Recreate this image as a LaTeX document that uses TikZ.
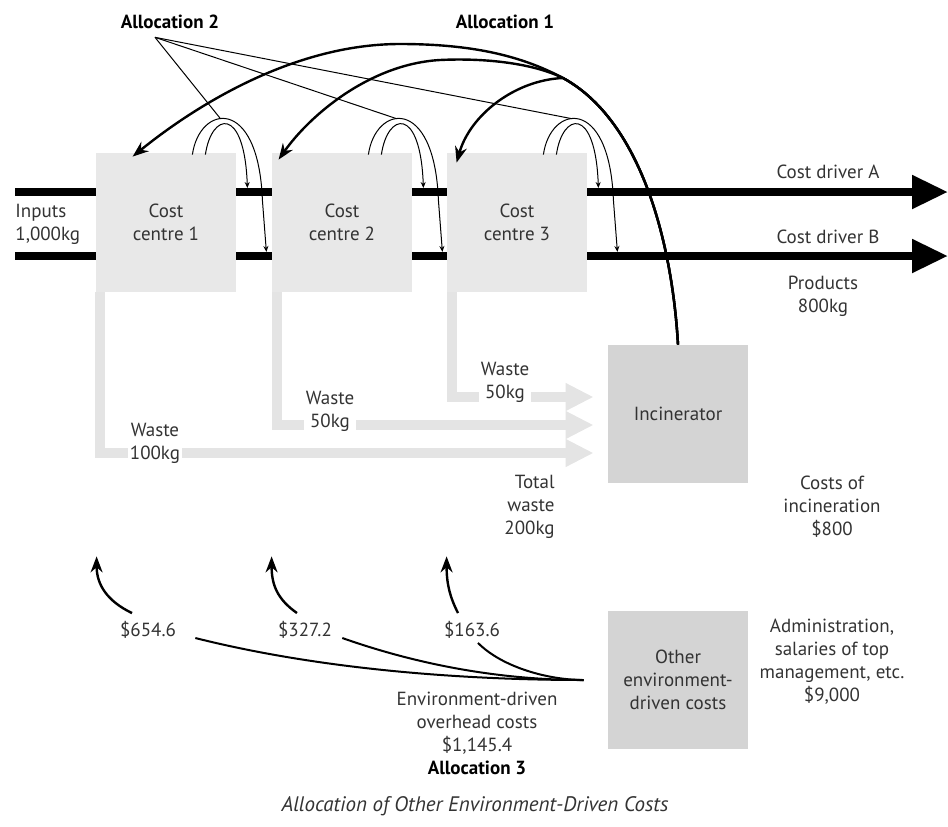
\documentclass[tikz,border=0pt]{standalone}
\usepackage{fontspec}
\setmainfont{PT Sans}
\usepackage{tikz}
\usetikzlibrary{arrows.meta, calc, positioning}
\definecolor{boxgrey}{HTML}{E8E8E8}
\definecolor{plantgrey}{HTML}{D4D4D4}
\definecolor{wastegrey}{HTML}{E4E4E4}
\definecolor{inkgrey}{HTML}{333333}
\tikzstyle{centre} = [rectangle, minimum width=70pt, minimum height=69.5pt, fill=boxgrey, text=inkgrey, align=center, inner sep=0pt, font=\fontsize{9.5}{11.5}\selectfont]
\tikzstyle{plant} = [rectangle, minimum width=70pt, minimum height=69pt, fill=plantgrey, text=inkgrey, align=center, inner sep=0pt, font=\fontsize{9.5}{11.5}\selectfont]
\tikzstyle{note} = [text=inkgrey, align=center, inner sep=1pt, font=\fontsize{9.5}{11.5}\selectfont]
\tikzstyle{head} = [text=black, inner sep=1pt, font=\fontsize{9.5}{11.5}\selectfont\bfseries]
\tikzstyle{bar} = [line width=4pt]
\tikzstyle{flow} = [line width=4pt, -{Triangle[length=18pt,width=16pt]}]
\tikzstyle{waste} = [draw=wastegrey, line width=5pt, -{Triangle[length=14pt,width=13pt]}, shorten >=7pt]
\tikzstyle{alloc} = [line width=1.2pt, -{Stealth[length=8pt,width=6pt]}]
\tikzstyle{ring} = [line width=0.5pt, -{Stealth[length=3pt,width=2.5pt]}]
\tikzstyle{pointer} = [line width=0.5pt]
\tikzstyle{share} = [line width=1pt, shorten >=8pt]

\begin{document}
\begin{tikzpicture}[x=0.5pt, y=-0.5pt]
\useasboundingbox (0,0) rectangle (948,826);

% rows of the product flow
\coordinate (rowA) at (0,192);
\coordinate (rowB) at (0,256);
\coordinate (inA) at (15,192);
\coordinate (inB) at (15,256);
\coordinate (outA) at (948,192);
\coordinate (outB) at (948,256);

\node (cc1) [centre] at (166,222.5) {Cost\\centre 1};
\node (cc2) [centre] at (342,222.5) {Cost\\centre 2};
\node (cc3) [centre] at (517,222.5) {Cost\\centre 3};
\node (inc) [plant] at (678,414) {Incinerator};
\node (other) [plant] at (678,680) {Other\\environment-\\driven costs};

\draw [bar] (inA) -- (cc1.west |- inA);
\draw [bar] (inB) -- (cc1.west |- inB);
\draw [bar] (cc1.east |- rowA) -- (cc2.west |- rowA);
\draw [bar] (cc1.east |- rowB) -- (cc2.west |- rowB);
\draw [bar] (cc2.east |- rowA) -- (cc3.west |- rowA);
\draw [bar] (cc2.east |- rowB) -- (cc3.west |- rowB);
\draw [flow] (cc3.east |- rowA) -- (outA);
\draw [flow] (cc3.east |- rowB) -- (outB);

% waste to the incinerator
\draw [waste] ($(cc1.south west)+(4,0)$) |- ($(inc.west)+(0,39)$);
\draw [waste] ($(cc2.south west)+(5,0)$) |- ($(inc.west)+(0,11)$);
\draw [waste] ($(cc3.south west)+(5,0)$) |- ($(inc.west)+(0,-17)$);

\node (w1) [note, fill=white] at (155,443) {Waste\\100kg};
\node (w2) [note, fill=white] at (330,411) {Waste\\50kg};
\node (w3) [note, fill=white] at (505,382) {Waste\\50kg};
\node (total) [note, align=right, anchor=east] at (557,507) {Total\\waste\\200kg};
\node (inccost) [note] at (832,507) {Costs of\\incineration\\\$800};

\node (inputs) [note, align=left, anchor=west] at (13,224) {Inputs\\1,000kg};
\node (drvA) [note] at (828,172) {Cost driver A};
\node (drvB) [note] at (828,237) {Cost driver B};
\node (prod) [note] at (823,296) {Products\\800kg};

% allocation 1 and 2
\node (al2) [head] at (170,22) {Allocation 2};
\node (al1) [head] at (505,22) {Allocation 1};
\coordinate (fork) at (563,78);

\foreach \c in {cc1,cc2,cc3} {
  \draw [ring] ($(\c.north east)+(-31,2)$) .. controls +(6,-42) and +(-3,-83) .. ($(\c.east |- rowA)+(11,-4)$);
  \draw [ring] ($(\c.north east)+(-44,2)$) .. controls +(7,-50) and +(-4,-105) .. ($(\c.east |- rowA)+(26,8)$) -- ($(\c.east |- rowB)+(30,-4)$);
  \draw [pointer] ($(al2.south)+(-15,6)$) -- ($(\c.north east)+(-16,-34)$);
}

\draw [alloc] (inc.north) .. controls (672,240) and (640,120) .. (fork) .. controls (520,55) and (470,44) .. (400,44) .. controls (290,44) and (190,110) .. ($(cc1.north west)+(37,4)$);
\draw [alloc] (inc.north) .. controls (672,240) and (640,120) .. (fork) .. controls (530,62) and (480,58) .. (440,60) .. controls (370,64) and (310,115) .. ($(cc2.north west)+(7,7)$);
\draw [alloc] (inc.north) .. controls (672,240) and (640,120) .. (fork) .. controls (515,80) and (470,115) .. ($(cc3.north west)+(10,10)$);

% allocation 3
\node (v1) [note] at (148,630) {\$654.6};
\node (v2) [note] at (305,630) {\$327.2};
\node (v3) [note] at (472,630) {\$163.6};
\node (overhead) [note] at (477,733) {Environment-driven\\overhead costs\\\$1,145.4\\\textbf{\color{black}Allocation 3}};
\node (admin) [note] at (832,662) {Administration,\\salaries of top\\management, etc.\\\$9,000};

\draw [alloc] ($(v1.north)+(-16,-6)$) .. controls +(-25,-12) and +(0,28) .. ($(cc1.south west)+(1,264)$);
\draw [alloc] ($(v2.north)+(-8,-6)$) .. controls +(-20,-14) and +(0,28) .. ($(cc2.south west)+(0,264)$);
\draw [alloc] ($(v3.north)+(-14,-6)$) .. controls +(-8,-16) and +(0,28) .. ($(cc3.south west)+(0,264)$);

\draw [share] ($(v1.east)+(17,8)$) .. controls +(135,34) and +(-120,0) .. ($(other.west)+(-8,0)$);
\draw [share] ($(v2.east)+(8,8)$) .. controls +(85,30) and +(-90,0) .. ($(other.west)+(-8,0)$);
\draw [share] ($(v3.south)+(6,2)$) .. controls +(25,25) and +(-50,0) .. ($(other.west)+(-8,0)$);

\node (caption) [note, font=\fontsize{10.5}{12.5}\selectfont\itshape] at (475,806) {Allocation of Other Environment-Driven Costs};

\end{tikzpicture}
\end{document}
